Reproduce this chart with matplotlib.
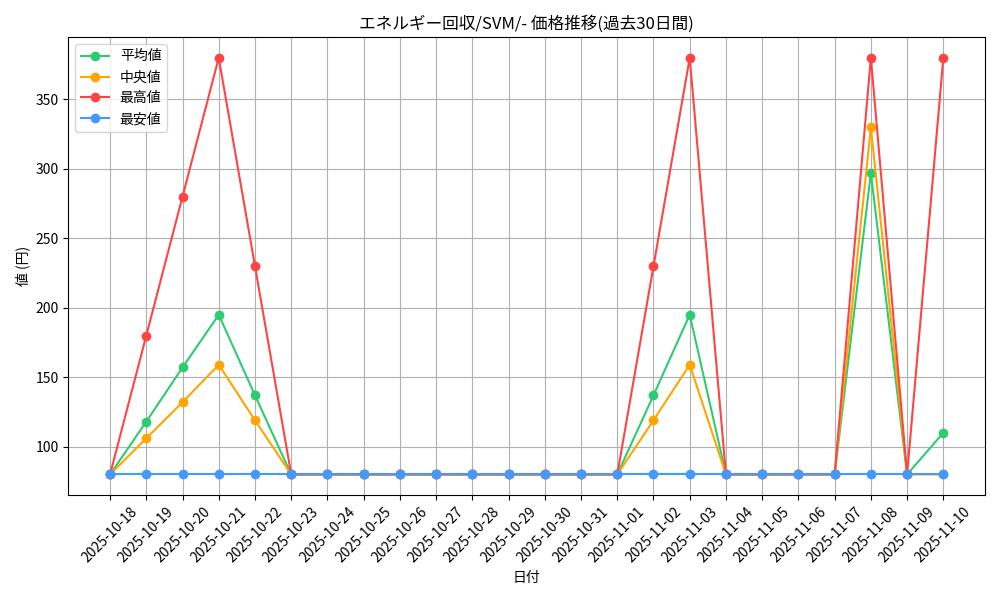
import matplotlib
matplotlib.use("Agg")
import matplotlib.pyplot as plt

plt.rcParams['font.family'] = ['Noto Sans CJK JP', 'DejaVu Sans']

dates = ["2025-10-18", "2025-10-19", "2025-10-20", "2025-10-21", "2025-10-22", "2025-10-23",
         "2025-10-24", "2025-10-25", "2025-10-26", "2025-10-27", "2025-10-28", "2025-10-29",
         "2025-10-30", "2025-10-31", "2025-11-01", "2025-11-02", "2025-11-03", "2025-11-04",
         "2025-11-05", "2025-11-06", "2025-11-07", "2025-11-08", "2025-11-09", "2025-11-10"]
avg_vals = [80, 118, 157, 195, 137, 80, 80, 80, 80, 80, 80, 80, 80, 80, 80, 137, 195, 80, 80, 80, 80, 297, 80, 110]
med_vals = [80, 106, 132, 159, 119, 80, 80, 80, 80, 80, 80, 80, 80, 80, 80, 119, 159, 80, 80, 80, 80, 330, 80, 80]
max_vals = [80, 180, 280, 380, 230, 80, 80, 80, 80, 80, 80, 80, 80, 80, 80, 230, 380, 80, 80, 80, 80, 380, 80, 380]
min_vals = [80] * 24

fig, ax = plt.subplots(figsize=(10, 6), dpi=100)
ax.plot(dates, avg_vals, marker='o', color='#2ecc71', label='平均値')
ax.plot(dates, med_vals, marker='o', color='#ffa500', label='中央値')
ax.plot(dates, max_vals, marker='o', color='#ff4444', label='最高値')
ax.plot(dates, min_vals, marker='o', color='#4499ff', label='最安値')

ax.set_title('エネルギー回収/SVM/- 価格推移(過去30日間)')
ax.set_xlabel('日付')
ax.set_ylabel('値 (円)')
ax.grid(True)
ax.legend(loc='upper left')
plt.xticks(rotation=45)
plt.tight_layout()
plt.savefig('out.png')
